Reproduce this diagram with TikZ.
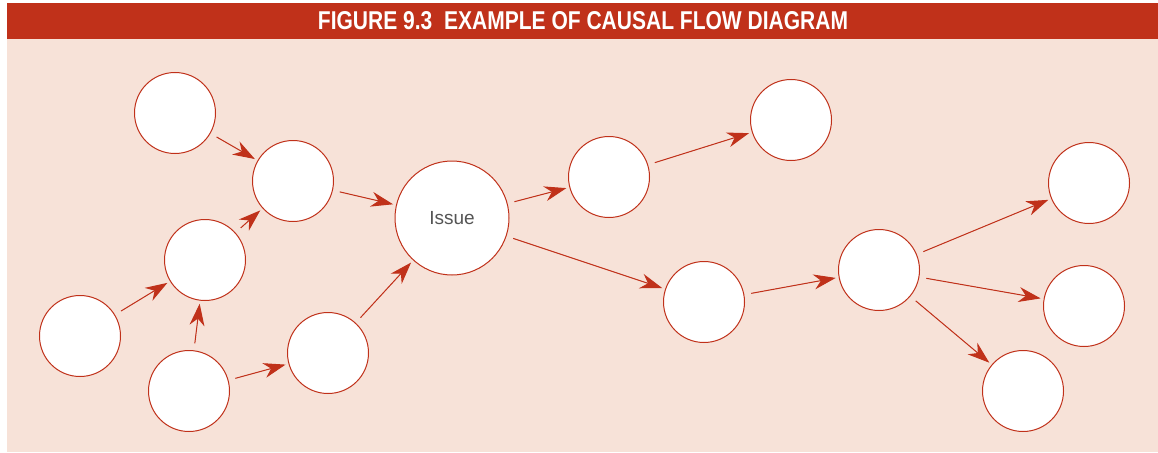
\documentclass[tikz,border=0pt]{standalone}
\usepackage{fontspec}
\usepackage{xcolor}
\usepackage{tikz}
\usetikzlibrary{arrows.meta}
\setmainfont{Liberation Sans}
\definecolor{figred}{HTML}{C0311A}
\definecolor{figpink}{HTML}{F7E2D8}
\definecolor{issuegray}{HTML}{555555}

\begin{document}
\begin{tikzpicture}[x=1pt, y=-1pt,
    cause/.style={circle, draw=figred, fill=white, line width=1pt, inner sep=0pt, minimum size=81pt},
    flow/.style={draw=figred, line width=1pt, shorten <=7pt, shorten >=3pt,
        -{Stealth[length=22pt, width=15pt, inset=7pt]}, fill=figred}]
        \useasboundingbox (0,0) rectangle (1158,452);
        \fill[figpink] (7,39) rectangle (1158,452);
        \fill[figred] (7,3) rectangle (1158,39);
        \node[text=white, inner sep=0pt] (title) at (583,21)
            {\resizebox{530pt}{18pt}{\bfseries FIGURE 9.3\ \ EXAMPLE OF CAUSAL FLOW DIAGRAM}};

        % left side
        \node[cause] (a) at (175,113) {};
        \node[cause] (b) at (293,181) {};
        \node[cause] (c) at (205,260) {};
        \node[cause] (d) at (80,336) {};
        \node[cause] (e) at (189,391) {};
        \node[cause] (f) at (328,353) {};
        \node[cause, minimum size=114pt, text=issuegray, font=\fontsize{19}{19}\selectfont] (issue) at (452,218) {Issue};

        % right side
        \node[cause] (g) at (609,177) {};
        \node[cause] (h) at (791,120) {};
        \node[cause] (k) at (704,302) {};
        \node[cause] (m) at (879,270) {};
        \node[cause] (n) at (1089,183) {};
        \node[cause] (p) at (1084,306) {};
        \node[cause] (q) at (1023,391) {};

        \draw[flow] (a) -- (b);
        \draw[flow] (b) -- (issue);
        \draw[flow] (c) -- (b);
        \draw[flow] (d) -- (c);
        \draw[flow] (e) -- (c);
        \draw[flow] (e) -- (f);
        \draw[flow] (f) -- (issue);
        \draw[flow] (issue) -- (g);
        \draw[flow] (g) -- (h);
        \draw[flow] (issue) -- (k);
        \draw[flow] (k) -- (m);
        \draw[flow] (m) -- (n);
        \draw[flow] (m) -- (p);
        \draw[flow] (m) -- (q);
    \end{tikzpicture}
\end{document}
